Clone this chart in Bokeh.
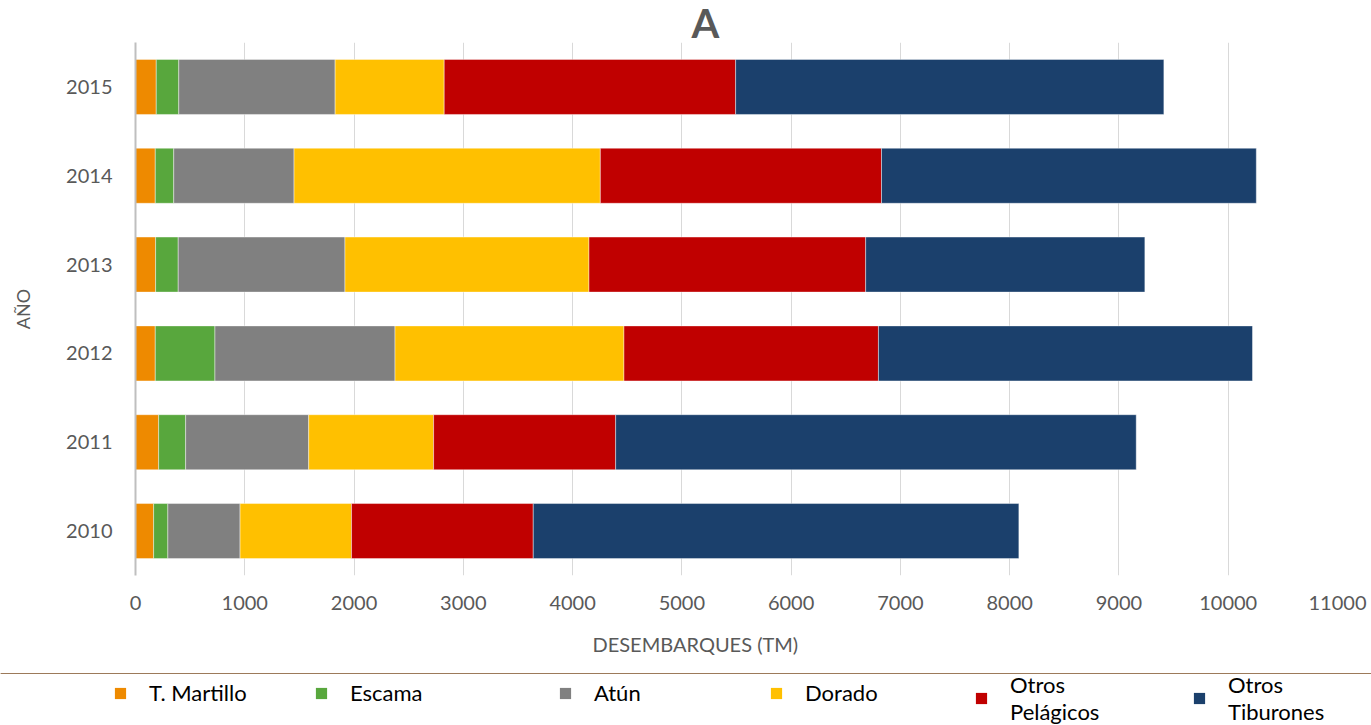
from bokeh.plotting import figure
from bokeh.layouts import column
from bokeh.models import (FactorRange, Legend, LegendItem, FixedTicker, Range1d,
                          Title)
from bokeh.embed import file_html
from bokeh.resources import INLINE

# Landings by year and species group (metric tonnes)
years = ["2010", "2011", "2012", "2013", "2014", "2015"]
t_martillo = [166, 212, 181, 184, 181, 190]
escama = [130, 247, 546, 207, 169, 206]
atun = [661, 1126, 1648, 1526, 1101, 1431]
dorado = [1020, 1143, 2095, 2233, 2803, 998]
otros_pelagicos = [1663, 1666, 2329, 2532, 2573, 2667]
otros_tiburones = [4444, 4764, 3423, 2555, 3430, 3919]

series_keys = ["t_martillo", "escama", "atun", "dorado", "otros_pelagicos", "otros_tiburones"]
series_labels = ["T. Martillo", "Escama", "Atún", "Dorado", "Otros\nPelágicos", "Otros\nTiburones"]
colors = ["#EE8A00", "#58A73D", "#808080", "#FFC000", "#C00000", "#1B406C"]
x_ticks = [0, 1000, 2000, 3000, 4000, 5000, 6000, 7000, 8000, 9000, 10000, 11000]

data = dict(years=years, t_martillo=t_martillo, escama=escama, atun=atun,
            dorado=dorado, otros_pelagicos=otros_pelagicos,
            otros_tiburones=otros_tiburones)

FONT = "Lato"
GREY_TEXT = "#595959"

p = figure(width=1371, output_backend="svg", toolbar_location=None,
           y_range=FactorRange(factors=years, range_padding=0),
           x_range=Range1d(0, 11000),
           frame_width=1202, frame_height=533,
           min_border_left=135, min_border_right=34, min_border_top=0,
           min_border_bottom=0)

p.hbar_stack(series_keys, y="years", height=0.62, color=colors,
             line_color="white", line_width=0.6, line_alpha=0.7,
             source=data)

p.title.text = "A"
p.title.align = "left"
p.title.offset = 556
p.title.text_font = FONT
p.title.text_font_size = "40px"
p.title.text_font_style = "bold"
p.title.text_color = GREY_TEXT
p.title.standoff = -8

p.outline_line_color = None
p.ygrid.grid_line_color = None
p.xgrid.grid_line_color = "#D9D9D9"
p.xgrid.grid_line_width = 1

p.xaxis.ticker = FixedTicker(ticks=x_ticks)
p.xaxis.axis_line_color = None
p.xaxis.major_tick_line_color = None
p.xaxis.minor_tick_line_color = None
p.xaxis.major_label_text_font = FONT
p.xaxis.major_label_text_font_size = "20px"
p.xaxis.major_label_text_color = GREY_TEXT
p.xaxis.major_label_standoff = 14

p.yaxis.axis_line_color = "#BFBFBF"
p.yaxis.axis_line_width = 2
p.yaxis.major_tick_line_color = None
p.yaxis.minor_tick_line_color = None
p.yaxis.major_label_text_font = FONT
p.yaxis.major_label_text_font_size = "20px"
p.yaxis.major_label_text_color = GREY_TEXT
p.yaxis.major_label_standoff = 17
p.yaxis.axis_label = "AÑO"
p.yaxis.axis_label_text_font = FONT
p.yaxis.axis_label_text_font_size = "18px"
p.yaxis.axis_label_text_font_style = "normal"
p.yaxis.axis_label_text_color = GREY_TEXT
p.yaxis.axis_label_standoff = 29

# Horizontal axis title
x_title = Title(text="DESEMBARQUES (TM)", align="left", offset=457,
                text_font=FONT, text_font_size="20px", text_font_style="normal",
                text_color=GREY_TEXT, standoff=35)
p.add_layout(x_title, "below")

# Legend strip under the chart
leg_fig = figure(width=1371, height=56, output_backend="svg", toolbar_location=None,
                 x_range=Range1d(0, 1), y_range=Range1d(0, 1),
                 x_axis_location=None, y_axis_location=None,
                 min_border=0, outline_line_color=None)
leg_fig.grid.visible = False
leg_fig.outline_line_color = None
leg_fig.outline_line_alpha = 0

# Keep the strip's frame independent of the chart frame when supported
try:
    p.frame_align = False
    leg_fig.frame_align = False
    shift = 0
except AttributeError:
    shift = 135

# Swatch renderers: one row per series, lying outside the strip's visible range
series_values = [t_martillo, escama, atun, dorado, otros_pelagicos, otros_tiburones]
swatches = [leg_fig.hbar(y=[vals[-1]], right=[vals[-1]], height=1, color=c,
                         line_color=None)
            for vals, c in zip(series_values, colors)]

legend_left = [113, 314, 558, 769, 974, 1192]
legend_bottom = [23, 23, 23, 23, 4, 4]
for lab, r, lx, ly in zip(series_labels, swatches, legend_left, legend_bottom):
    leg = Legend(items=[LegendItem(label=lab, renderers=[r])],
                 location=(lx - shift, ly), orientation="horizontal",
                 glyph_width=14, glyph_height=14, label_standoff=22,
                 padding=0, margin=0,
                 label_text_font=FONT, label_text_font_size="22px",
                 label_text_color="#000000", label_text_line_height=1.32,
                 border_line_alpha=0, background_fill_alpha=0)
    leg_fig.add_layout(leg, "center")

layout = column(p, leg_fig, spacing=0)
open("out.html", "w").write(file_html(layout, INLINE))
